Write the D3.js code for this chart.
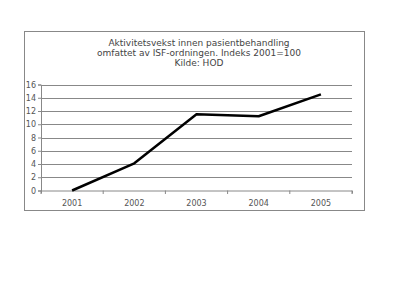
<!DOCTYPE html>
<html><head><meta charset="utf-8">
<script src="https://cdn.jsdelivr.net/npm/d3@7"></script>
<style>body{margin:0;background:#fff}svg{display:block}</style>
</head><body>
<script>
const categories = ["2001","2002","2003","2004","2005"];
const values = [0, 4.1, 11.5, 11.2, 14.5];
const yTicks = [0,2,4,6,8,10,12,14,16];
const titleLines = ["Aktivitetsvekst innen pasientbehandling","omfattet av ISF-ordningen. Indeks 2001=100","Kilde: HOD"];

const W=397,H=298;
const svg=d3.select("body").append("svg").attr("width",W).attr("height",H);
svg.append("rect").attr("x",24.5).attr("y",31.5).attr("width",340).attr("height",179)
  .attr("fill","#fff").attr("stroke","#888").attr("stroke-width",1);

const x=d3.scaleBand().domain(categories).range([41,352]);
const y=d3.scaleLinear().domain([0,16]).range([190.5,84.5]);

svg.append("g").selectAll("text").data(titleLines).join("text")
  .attr("x",199).attr("y",(d,i)=>46+i*10).attr("text-anchor","middle")
  .attr("font-family","DejaVu Sans").attr("font-size",9).attr("fill","#444").text(d=>d);

svg.append("g").selectAll("line").data(yTicks.slice(1)).join("line")
  .attr("x1",41).attr("x2",352).attr("y1",d=>Math.round(y(d))+0.5).attr("y2",d=>Math.round(y(d))+0.5)
  .attr("stroke","#888").attr("stroke-width",1);

const ya=svg.append("g").attr("transform","translate(41,0)").call(d3.axisLeft(y).tickValues(yTicks).tickSize(3).tickPadding(2));
const xa=svg.append("g").attr("transform","translate(0,190.5)").call(d3.axisBottom(x).tickSize(3).tickPadding(7));
xa.selectAll(".tick line").remove();
svg.append("g").selectAll("line").data(d3.range(6)).join("line")
  .attr("x1",i=>x.range()[0]+i*x.step()).attr("x2",i=>x.range()[0]+i*x.step())
  .attr("y1",190.5).attr("y2",194).attr("stroke","#888");
[ya,xa].forEach(a=>{a.selectAll("path").attr("stroke","#888");a.selectAll("line").attr("stroke","#888");
  a.selectAll("text").attr("font-family","DejaVu Sans").attr("font-size",8).attr("fill","#555");});

svg.append("path").datum(values).attr("fill","none").attr("stroke","#000").attr("stroke-width",2.5)
  .attr("stroke-linejoin","round")
  .attr("d",d3.line().x((d,i)=>x(categories[i])+x.bandwidth()/2).y(d=>y(d)));
</script>
</body></html>
